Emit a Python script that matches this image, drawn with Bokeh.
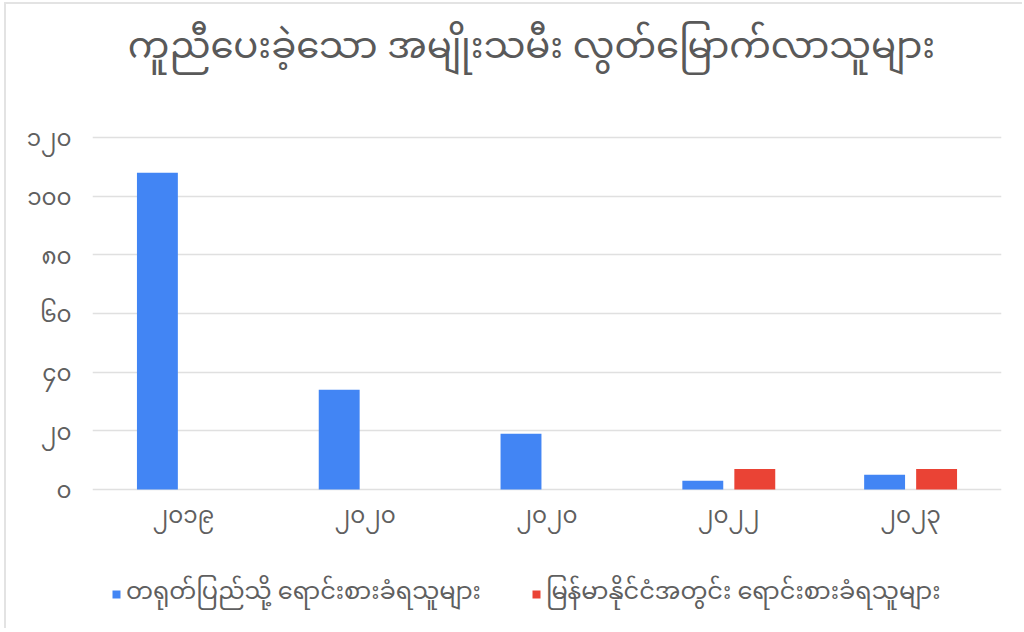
from bokeh.plotting import figure
from bokeh.models import ColumnDataSource, Range1d, FixedTicker, Legend, LegendItem, Label
from bokeh.transform import dodge
from bokeh.embed import file_html
from bokeh.resources import INLINE

# ---- data ----
title_text = "ကူညီပေးခဲ့သော အမျိုးသမီး လွတ်မြောက်လာသူများ"
years = ["၂၀၁၉", "၂၀၂၀", "၂၀၂၀", "၂၀၂၂", "၂၀၂၃"]
series_names = ["တရုတ်ပြည်သို့ ရောင်းစားခံရသူများ", "မြန်မာနိုင်ငံအတွင်း ရောင်းစားခံရသူများ"]
sold_to_china = [108, 34, 19, 3, 5]
sold_in_myanmar = [0, 0, 0, 7, 7]
y_ticks = [0, 20, 40, 60, 80, 100, 120]
y_tick_labels = ["၀", "၂၀", "၄၀", "၆၀", "၈၀", "၁၀၀", "၁၂၀"]

FONT = "Noto Sans, Noto Sans Myanmar, sans-serif"
BLUE = "#4285F4"
RED = "#EA4335"

src = ColumnDataSource(dict(
    x=list(range(len(years))),
    china=sold_to_china,
    myanmar=sold_in_myanmar,
))

# the frame fills the whole height; the value range 0..120 sits in the middle
p = figure(width=1018, height=626, output_backend="svg", toolbar_location=None,
           x_range=Range1d(-0.5, len(years) - 0.5), y_range=Range1d(-48.07, 165.34),
           min_border_left=86, min_border_right=23, min_border_top=0,
           min_border_bottom=0)
p.outline_line_color = None
p.background_fill_color = "white"
p.border_fill_color = "white"
p.styles = {"border-left": "2px solid #e3e3e3", "border-top": "2px solid #e3e3e3",
            "margin-left": "4px", "margin-top": "2px"}

r1 = p.vbar(x=dodge("x", -0.143), top="china", width=0.225, source=src,
            fill_color=BLUE, line_color=None)
r2 = p.vbar(x=dodge("x", 0.143), top="myanmar", width=0.225, source=src,
            fill_color=RED, line_color=None)

title = Label(text=title_text, x=439, y=587, x_units="screen", y_units="screen",
              text_align="center", text_baseline="middle", text_font=FONT,
              text_font_size="37px", text_color="#595959")
p.add_layout(title)

# axes
p.xaxis.fixed_location = 0
p.xaxis.ticker = FixedTicker(ticks=list(range(len(years))))
p.xaxis.major_label_overrides = {i: y for i, y in enumerate(years)}
p.yaxis.ticker = FixedTicker(ticks=y_ticks)
p.yaxis.major_label_overrides = {v: s for v, s in zip(y_ticks, y_tick_labels)}
for ax in (p.xaxis[0], p.yaxis[0]):
    ax.axis_line_color = None
    ax.major_tick_line_color = None
    ax.minor_tick_line_color = None
    ax.major_label_text_font = FONT
    ax.major_label_text_font_size = "23px"
    ax.major_label_text_color = "#5f5f5f"
p.yaxis.major_label_standoff = 15
p.xaxis.major_label_standoff = 3

p.xgrid.grid_line_color = None
p.ygrid.ticker = FixedTicker(ticks=y_ticks)
p.ygrid.grid_line_color = "#e0e0e0"
p.ygrid.grid_line_width = 1.5

legend = Legend(items=[LegendItem(label=series_names[0], renderers=[r1]),
                       LegendItem(label=series_names[1], renderers=[r2])],
                orientation="horizontal", location=(19, 10),
                label_text_font=FONT, label_text_font_size="24px",
                label_text_color="#5f5f5f", glyph_width=10, glyph_height=10,
                label_standoff=5, spacing=50, border_line_color=None,
                background_fill_alpha=0, margin=0, padding=0)
p.add_layout(legend, "center")

open("out.html", "w").write(file_html(p, INLINE))
